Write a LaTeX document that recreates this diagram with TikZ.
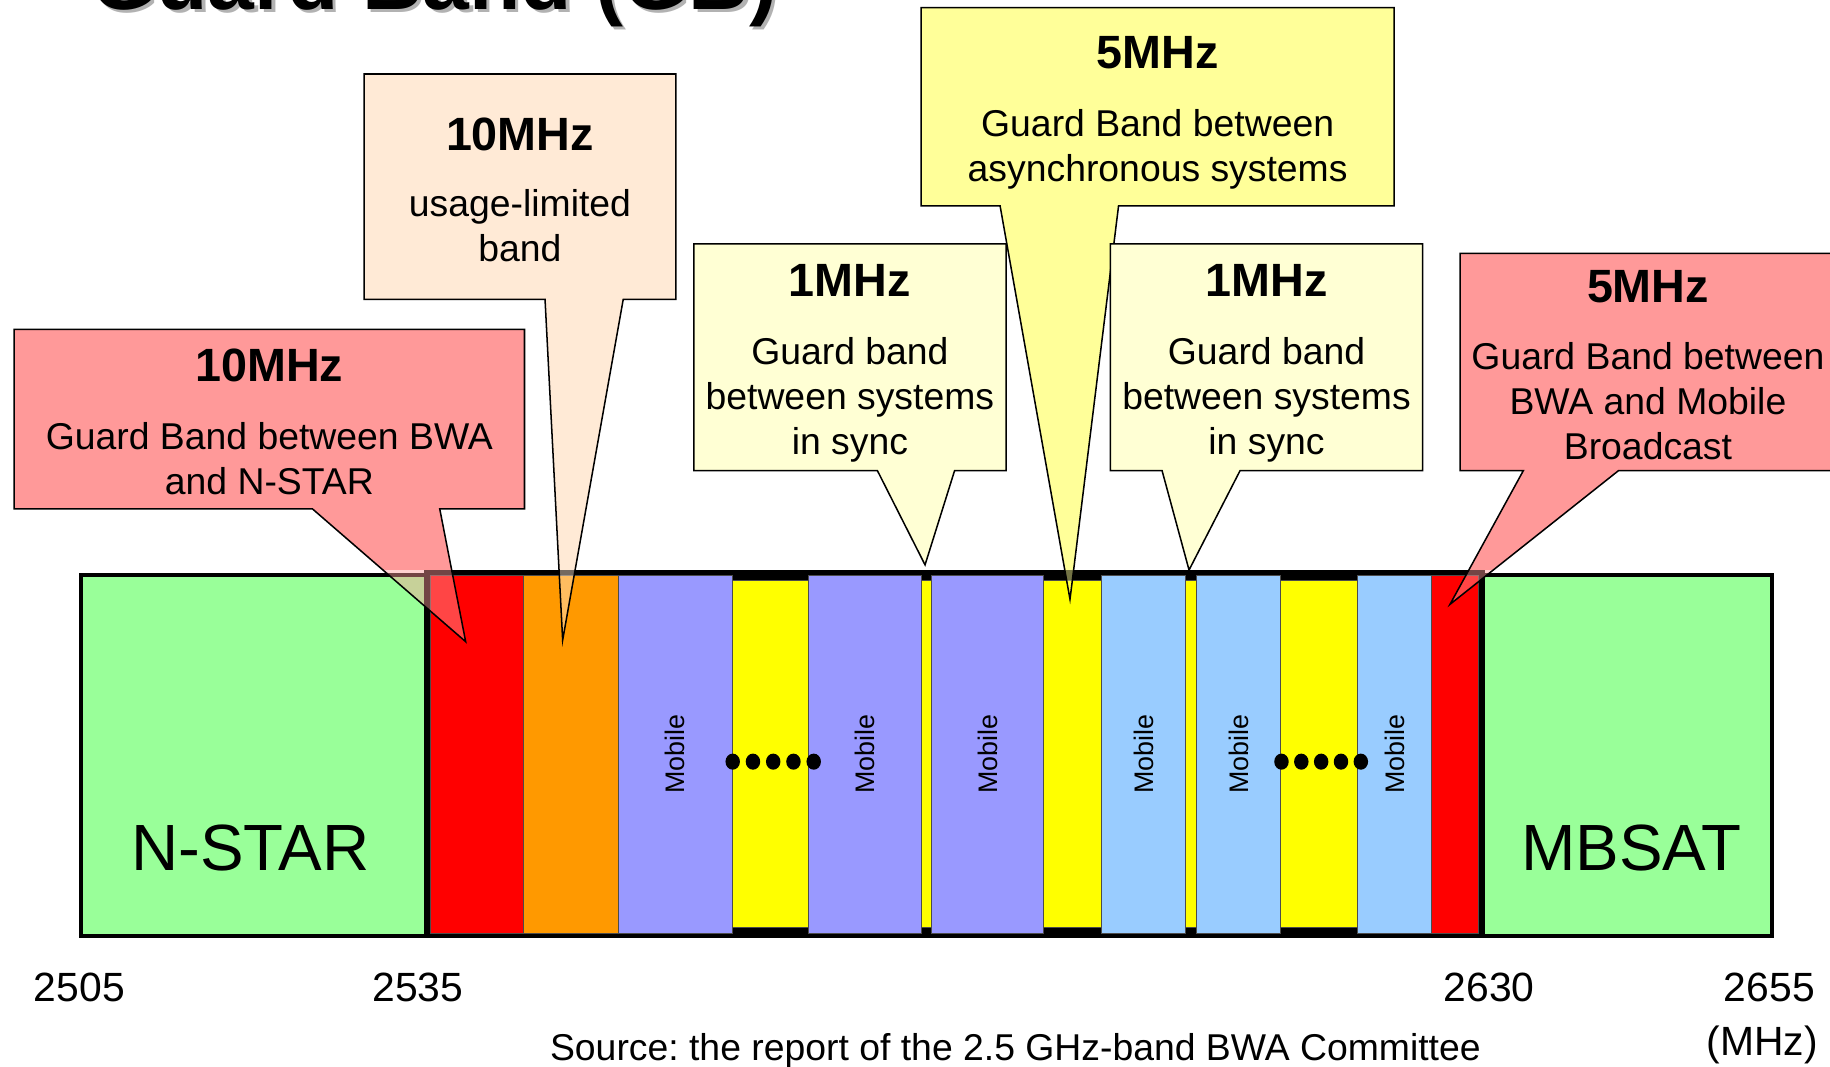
\documentclass[tikz,border=0pt]{standalone}
\usepackage{fontspec}
\setmainfont{Liberation Sans}
\frenchspacing
\definecolor{gbgreen}{HTML}{99FF99}
\definecolor{gbred}{HTML}{FF0000}
\definecolor{gborange}{HTML}{FF9900}
\definecolor{gbpurple}{HTML}{9999FF}
\definecolor{gbyellow}{HTML}{FFFF00}
\definecolor{gbblue}{HTML}{99CCFF}
\definecolor{cpink}{HTML}{FF9999}
\definecolor{cpeach}{HTML}{FFEAD6}
\definecolor{cpale}{HTML}{FFFFD4}
\definecolor{cyel}{HTML}{FFFF99}
\newcommand\gbCallout[9]{%
  \begin{scope}
    \clip (-20,-100) rectangle (1620,488);
    \fill[#1] (#2,#3) -- (#4,#3) -- (#4,#5) -- (#7,#5) -- (#8,#9) -- (#6,#5) -- (#2,#5) -- cycle;
  \end{scope}
  \begin{scope}
    \clip (-20,488) rectangle (1620,1000);
    \fill[#1, fill opacity=0.45] (#2,#3) -- (#4,#3) -- (#4,#5) -- (#7,#5) -- (#8,#9) -- (#6,#5) -- (#2,#5) -- cycle;
  \end{scope}
  \draw[line width=1.3pt, line join=miter] (#2,#3) -- (#4,#3) -- (#4,#5) -- (#7,#5) -- (#8,#9) -- (#6,#5) -- (#2,#5) -- cycle;
}
\tikzset{
  hdr/.style={font=\fontsize{40}{48}\selectfont\bfseries, inner sep=0pt, anchor=base},
  txt/.style={font=\fontsize{32}{38}\selectfont, inner sep=0pt, anchor=base},
  axis/.style={font=\fontsize{35}{42}\selectfont, inner sep=0pt, anchor=base},
  bandbox/.style={draw=black!70, line width=0.8pt},
  mob/.style={font=\fontsize{23}{28}\selectfont, inner sep=0pt, rotate=90},
  sysname/.style={font=\fontsize{56}{62}\selectfont, inner sep=0pt, anchor=base},
}
\begin{document}
\begin{tikzpicture}[x=1pt,y=-1pt]
\useasboundingbox[fill=white] (0,0) rectangle (1568,914);

% title (clipped by the page top)
\node[font=\fontsize{72}{80}\selectfont\bfseries, text=black!30, inner sep=0pt, anchor=base west] (titleshadow) at (81,11) {Guard Band (GB)};
\node[font=\fontsize{72}{80}\selectfont\bfseries, inner sep=0pt, anchor=base west] (title) at (78,8) {Guard Band (GB)};

% side systems
\draw[fill=gbgreen, line width=3.5pt] (69.75,493) rectangle (365,802.25);
\draw[fill=gbgreen, line width=3.5pt] (1271,492.5) rectangle (1518.25,802.25);
\node[sysname] (nstar) at (214.5,745.5) {N-STAR};
\node[sysname] (mbsat) at (1397.7,745.5) {MBSAT};

% BWA frame
\fill[black] (363,488) rectangle (1272.5,804);
\path[bandbox, fill=gbred] (368.5,493) rectangle (448.8,799.5);
\path[bandbox, fill=gborange] (448.8,493) rectangle (529.8,799.5);
\path[bandbox, fill=gbpurple] (529.8,493) rectangle (627.3,799.5);
\path[bandbox, fill=gbyellow] (627.3,497) rectangle (692.3,795);
\path[bandbox, fill=gbpurple] (692.3,493) rectangle (789.5,799.5);
\path[bandbox, fill=gbyellow] (789.5,497) rectangle (798,795);
\path[bandbox, fill=gbpurple] (798,493) rectangle (894.3,799.5);
\path[bandbox, fill=gbyellow] (894.3,497) rectangle (943.5,795);
\path[bandbox, fill=gbblue] (943.5,493) rectangle (1016,799.5);
\path[bandbox, fill=gbyellow] (1016,497) rectangle (1025,795);
\path[bandbox, fill=gbblue] (1025,493) rectangle (1097.5,799.5);
\path[bandbox, fill=gbyellow] (1097.5,497) rectangle (1163,795);
\path[bandbox, fill=gbblue] (1163,493) rectangle (1226.8,799.5);
\path[bandbox, fill=gbred] (1226.8,493) rectangle (1267,799.5);

\node[mob] (m1) at (578.5,646) {Mobile};
\node[mob] (m2) at (740.9,646) {Mobile};
\node[mob] (m3) at (846.2,646) {Mobile};
\node[mob] (m4) at (979.8,646) {Mobile};
\node[mob] (m5) at (1061.3,646) {Mobile};
\node[mob] (m6) at (1194.9,646) {Mobile};

\foreach \k in {0,...,4} {
  \fill (627.8+17.35*\k,652.6) ellipse [x radius=6.2, y radius=6.9];
  \fill (1098+17*\k,652.6) ellipse [x radius=6.2, y radius=6.9];
}

% callouts
\gbCallout{cpink}{12.2}{282.2}{449.4}{436.1}{267.8}{376.8}{399}{549.8}
\gbCallout{cpeach}{311.9}{63.4}{579.2}{256.5}{467}{534}{482.1}{548.4}
\gbCallout{cyel}{789.2}{6.6}{1194.5}{176.4}{856.9}{958.4}{916.8}{513.5}
\gbCallout{cpale}{594.5}{208.9}{862}{403.3}{751.8}{817.9}{792.6}{484}
\gbCallout{cpale}{951.3}{208.9}{1219}{403.3}{995.7}{1062.5}{1018.8}{488.4}
\gbCallout{cpink}{1251}{217}{1575}{403.3}{1305.2}{1386.7}{1242.4}{517.8}

% callout texts
\node[hdr] (aH) at (230.8,327) {10MHz};
\node[txt] (a1) at (230.8,384.8) {Guard Band between BWA};
\node[txt] (a2) at (230.8,423.3) {and N-STAR};

\node[hdr] (bH) at (445.5,129.1) {10MHz};
\node[txt] (b1) at (445.5,185.7) {usage-limited};
\node[txt] (b2) at (445.5,224.2) {band};

\node[hdr] (cH) at (728.2,254) {1MHz};
\node[txt] (c1) at (728.2,312.5) {Guard band};
\node[txt] (c2) at (728.2,351) {between systems};
\node[txt] (c3) at (728.2,389.5) {in sync};

\node[hdr] (dH) at (991.9,59) {5MHz};
\node[txt] (d1) at (991.9,117) {Guard Band between};
\node[txt] (d2) at (991.9,155.5) {asynchronous systems};

\node[hdr] (eH) at (1085.2,254) {1MHz};
\node[txt] (e1) at (1085.2,312.5) {Guard band};
\node[txt] (e2) at (1085.2,351) {between systems};
\node[txt] (e3) at (1085.2,389.5) {in sync};

\node[hdr] (fH) at (1412,259.5) {5MHz};
\node[txt] (f1) at (1412,317) {Guard Band between};
\node[txt] (f2) at (1412,355.5) {BWA and Mobile};
\node[txt] (f3) at (1412,394) {Broadcast};

% axis labels
\node[axis] (f2505) at (68,857.7) {2505};
\node[axis] (f2535) at (358,857.7) {2535};
\node[axis] (f2630) at (1276,857.7) {2630};
\node[axis] (f2655) at (1516,857.7) {2655};
\node[axis] (unit) at (1510,904) {(MHz)};
\node[txt] (source) at (870,909) {Source: the report of the 2.5 GHz-band BWA Committee};
\end{tikzpicture}
\end{document}
